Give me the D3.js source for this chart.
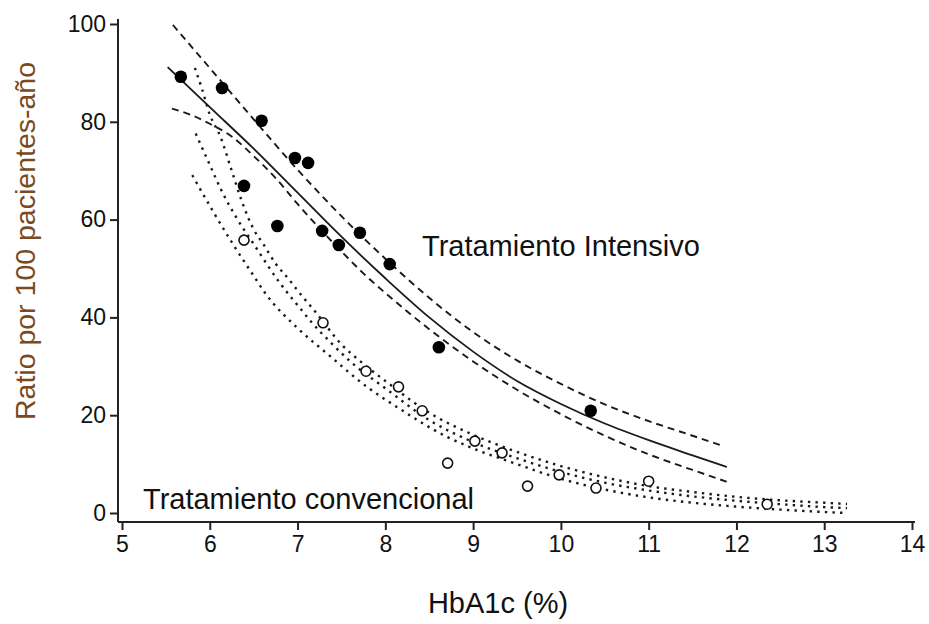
<!DOCTYPE html>
<html>
<head>
<meta charset="utf-8">
<script src="https://cdn.jsdelivr.net/npm/d3@7"></script>
<style>
  html, body { margin: 0; padding: 0; background: #fff; }
  svg { display: block; }
  text { font-family: Arial, "Liberation Sans", sans-serif; fill: #111; }
</style>
</head>
<body>
<svg id="chart" width="929" height="624"></svg>
<script>
// Observed event rates — intensive therapy (filled markers)
const intensiveHbA1c = [5.67, 6.14, 6.59, 6.97, 7.12, 6.39, 6.77, 7.28, 7.47, 7.71, 8.05, 8.61, 10.34];
const intensiveRate  = [89.2, 86.9, 80.2, 72.6, 71.6, 66.9, 58.7, 57.7, 54.8, 57.3, 50.9, 33.9, 20.9];

// Observed event rates — conventional therapy (open markers)
const conventionalHbA1c = [6.39, 7.29, 7.78, 8.15, 8.42, 8.71, 9.02, 9.33, 9.62, 9.98, 10.40, 11.00, 12.35];
const conventionalRate  = [55.8, 38.9, 29.0, 25.8, 20.9, 10.2, 14.7, 12.3, 5.5, 7.8, 5.1, 6.5, 1.8];

// Fitted curve and 95% band — intensive therapy
const intFitX   = [5.52, 6.0, 6.5, 7.0, 7.5, 8.0, 8.5, 9.0, 9.5, 10.0, 10.5, 11.0, 11.5, 11.89];
const intFitY   = [91.2, 83.0, 74.5, 65.5, 56.5, 48.0, 40.0, 33.0, 27.0, 22.3, 18.3, 14.9, 11.8, 9.4];
const intHighX  = [5.58, 6.0, 6.5, 7.0, 7.5, 8.0, 8.5, 9.0, 9.5, 10.0, 10.5, 11.0, 11.5, 11.83];
const intHighY  = [99.8, 91.0, 80.5, 70.2, 60.7, 52.0, 44.0, 37.0, 31.2, 26.4, 22.2, 18.8, 15.8, 13.8];
const intLowX   = [5.57, 5.8, 6.0, 6.25, 6.5, 6.75, 7.0, 7.25, 7.5, 7.75, 8.0, 8.25, 8.5, 8.75, 9.0, 9.5, 10.0, 10.5, 11.0, 11.5, 11.89];
const intLowY   = [82.7, 81.3, 79.6, 77.0, 73.0, 68.5, 63.2, 58.2, 53.5, 49.0, 45.0, 41.2, 37.6, 34.2, 31.0, 25.2, 20.2, 15.8, 12.0, 8.8, 6.4];

// Fitted curve and 95% band — conventional therapy
const convFitX  = [5.84, 6.0, 6.14, 6.3, 6.5, 6.8, 7.0, 7.16, 7.37, 7.6, 8.0, 8.5, 9.0, 9.5, 10.0, 10.5, 11.0, 11.5, 12.0, 12.5, 13.0, 13.26];
const convFitY  = [77.6, 71.2, 65.7, 60.5, 55.0, 47.0, 42.5, 39.0, 35.0, 31.0, 25.5, 19.0, 14.5, 11.2, 8.4, 6.2, 4.6, 3.4, 2.5, 1.8, 1.2, 1.0];
const convHighX = [5.83, 5.91, 6.0, 6.12, 6.25, 6.36, 6.5, 6.61, 6.75, 6.91, 7.0, 7.2, 7.5, 7.75, 8.0, 8.5, 9.0, 9.5, 10.0, 10.5, 11.0, 11.5, 12.0, 12.5, 13.0, 13.26];
const convHighY = [91.0, 86.8, 81.5, 77.0, 70.0, 64.0, 58.0, 55.0, 51.0, 47.6, 45.5, 41.2, 34.5, 30.5, 27.0, 20.5, 16.0, 12.5, 9.6, 7.3, 5.5, 4.3, 3.3, 2.6, 2.1, 1.85];
const convLowX  = [5.80, 6.04, 6.27, 6.5, 6.63, 7.0, 7.33, 7.79, 8.13, 8.7, 9.0, 9.5, 10.0, 10.5, 11.0, 11.5, 12.0, 12.5, 13.0, 13.26];
const convLowY  = [69.1, 61.6, 54.8, 48.5, 45.0, 37.8, 32.7, 25.8, 21.7, 15.6, 13.2, 10.0, 7.0, 4.8, 3.2, 2.1, 1.3, 0.7, 0.2, 0.0];

// Axis ticks
const xTicks = [5, 6, 7, 8, 9, 10, 11, 12, 13, 14];
const yTicks = [0, 20, 40, 60, 80, 100];

const svg = d3.select("#chart");

const x = d3.scaleLinear().domain([5, 14]).range([122, 912]);
const y = d3.scaleLinear().domain([0, 100]).range([513, 24]);

const axisLeftX = 118;
const axisBottomY = 522;

const zip = (xs, ys) => xs.map((v, i) => [v, ys[i]]);
const line = d3.line().x(d => x(d[0])).y(d => y(d[1])).curve(d3.curveMonotoneX);

// Curves: solid fit with dashed band (intensive), dotted fit and band (conventional)
const curves = [
  { pts: zip(intFitX, intFitY),   dash: null,   w: 1.8, cap: "butt" },
  { pts: zip(intHighX, intHighY), dash: "7,5",  w: 1.9, cap: "butt" },
  { pts: zip(intLowX, intLowY),   dash: "7,5",  w: 1.9, cap: "butt" },
  { pts: zip(convFitX, convFitY),   dash: "2.4,5.2", w: 2.4, cap: "butt" },
  { pts: zip(convHighX, convHighY), dash: "2.4,5.2", w: 2.4, cap: "butt" },
  { pts: zip(convLowX, convLowY),   dash: "2.4,5.2", w: 2.4, cap: "butt" }
];

svg.append("g").selectAll("path")
  .data(curves)
  .join("path")
  .attr("d", d => line(d.pts))
  .attr("fill", "none")
  .attr("stroke", "#1a1a1a")
  .attr("stroke-width", d => d.w)
  .attr("stroke-linecap", d => d.cap)
  .attr("stroke-dasharray", d => d.dash);

// Markers
svg.append("g").selectAll("circle")
  .data(zip(conventionalHbA1c, conventionalRate))
  .join("circle")
  .attr("cx", d => x(d[0]))
  .attr("cy", d => y(d[1]))
  .attr("r", 5)
  .attr("fill", "#fff")
  .attr("stroke", "#111")
  .attr("stroke-width", 1.6);

svg.append("g").selectAll("circle")
  .data(zip(intensiveHbA1c, intensiveRate))
  .join("circle")
  .attr("cx", d => x(d[0]))
  .attr("cy", d => y(d[1]))
  .attr("r", 6.3)
  .attr("fill", "#000");

// Axes
const xAxis = d3.axisBottom(x).tickValues(xTicks).tickSize(8).tickPadding(6).tickFormat(d3.format("d"));
const gx = svg.append("g").attr("transform", `translate(0,${axisBottomY})`).call(xAxis);
gx.select(".domain").remove();
gx.append("line").attr("x1", axisLeftX).attr("x2", 915).attr("y1", 0).attr("y2", 0);

const yAxis = d3.axisLeft(y).tickValues(yTicks).tickSize(8).tickPadding(4).tickFormat(d3.format("d"));
const gy = svg.append("g").attr("transform", `translate(${axisLeftX},0)`).call(yAxis);
gy.select(".domain").remove();
gy.append("line").attr("x1", 0).attr("x2", 0).attr("y1", 19).attr("y2", axisBottomY);

svg.selectAll("g line").attr("stroke", "#222").attr("stroke-width", 2);
svg.selectAll(".tick text")
  .attr("font-size", 23)
  .attr("font-family", "Arial, 'Liberation Sans', sans-serif")
  .attr("fill", "#111");

// Labels
svg.append("text")
  .attr("x", 422).attr("y", 256)
  .attr("font-size", 29)
  .text("Tratamiento Intensivo");

svg.append("text")
  .attr("x", 143).attr("y", 509)
  .attr("font-size", 29)
  .text("Tratamiento convencional");

svg.append("text")
  .attr("x", 498).attr("y", 613)
  .attr("text-anchor", "middle")
  .attr("font-size", 29)
  .text("HbA1c (%)");

svg.append("text")
  .attr("transform", "translate(35,241) rotate(-90)")
  .attr("text-anchor", "middle")
  .attr("font-size", 28.5)
  .style("fill", "#7a4a1e")
  .text("Ratio por 100 pacientes-año");
</script>
</body>
</html>
